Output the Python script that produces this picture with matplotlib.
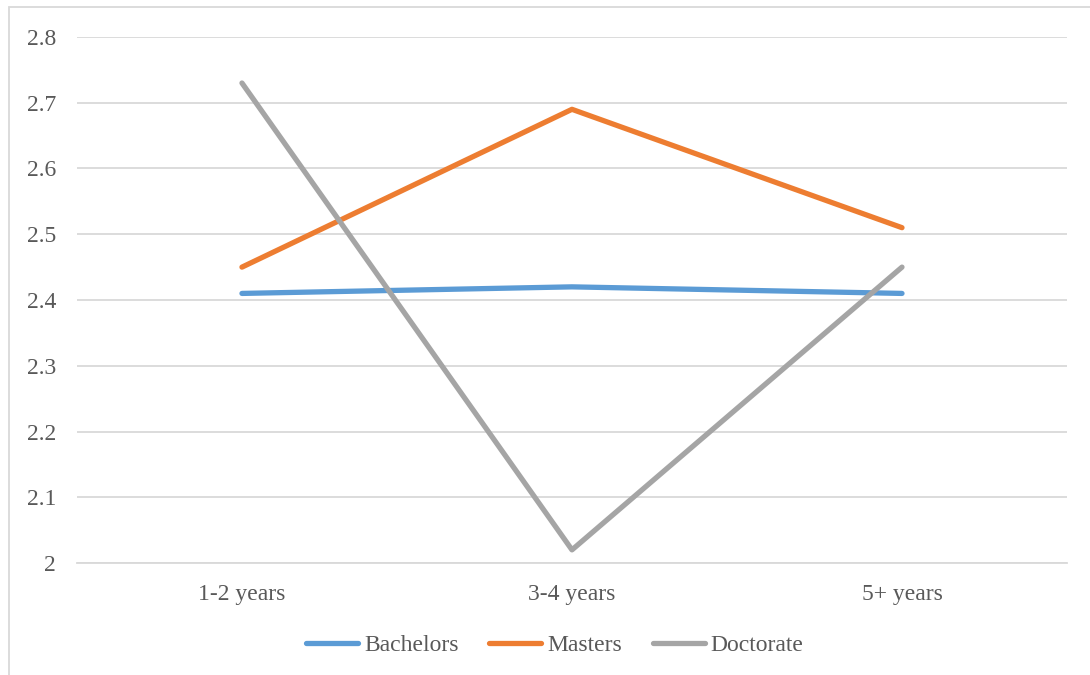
import matplotlib.pyplot as plt
from matplotlib.patches import Rectangle

# categories and series values
categories = ["1-2 years", "3-4 years", "5+ years"]
bachelors = [2.41, 2.42, 2.41]
masters = [2.45, 2.69, 2.51]
doctorate = [2.73, 2.02, 2.45]
y_ticks = [2, 2.1, 2.2, 2.3, 2.4, 2.5, 2.6, 2.7, 2.8]
y_labels = ["2", "2.1", "2.2", "2.3", "2.4", "2.5", "2.6", "2.7", "2.8"]

plt.rcParams["font.family"] = ["Liberation Serif", "DejaVu Serif"]
text_color = "#595959"
grid_color = "#d9d9d9"

fig = plt.figure(figsize=(10.9, 6.75), dpi=100)
ax = fig.add_axes([0.0706, 0.1659, 0.9083, 0.7793])

x = range(len(categories))
ax.plot(x, bachelors, color="#5B9BD5", linewidth=3.8, solid_capstyle="round", label="Bachelors")
ax.plot(x, masters, color="#ED7D31", linewidth=3.8, solid_capstyle="round", label="Masters")
ax.plot(x, doctorate, color="#A5A5A5", linewidth=3.8, solid_capstyle="round", label="Doctorate")

ax.set_xlim(-0.5, 2.5)
ax.set_ylim(2, 2.8)
ax.set_xticks(list(x))
ax.set_xticklabels(categories)
ax.set_yticks(y_ticks)
ax.set_yticklabels(y_labels)
ax.tick_params(axis="both", length=0, colors=text_color, labelsize=17)
ax.tick_params(axis="y", pad=15)
ax.tick_params(axis="x", pad=15)
ax.grid(axis="y", color=grid_color, linewidth=1.3)
ax.set_axisbelow(True)
for side in ["top", "right", "left"]:
    ax.spines[side].set_visible(False)
ax.spines["bottom"].set_color(grid_color)
ax.spines["bottom"].set_linewidth(1.3)

leg = fig.legend(loc="center", bbox_to_anchor=(0.509, 0.044), ncol=3, frameon=False,
                 fontsize=17, handlelength=2.2, handletextpad=0.25, columnspacing=1.3)
for t in leg.get_texts():
    t.set_color(text_color)

# chart frame
fig.patches.append(Rectangle((9 / 1090, -0.05), 1.1, (668 / 675) + 0.05, transform=fig.transFigure,
                             fill=False, edgecolor=grid_color, linewidth=1.3, clip_on=False))

fig.savefig("out.png", dpi=100)
